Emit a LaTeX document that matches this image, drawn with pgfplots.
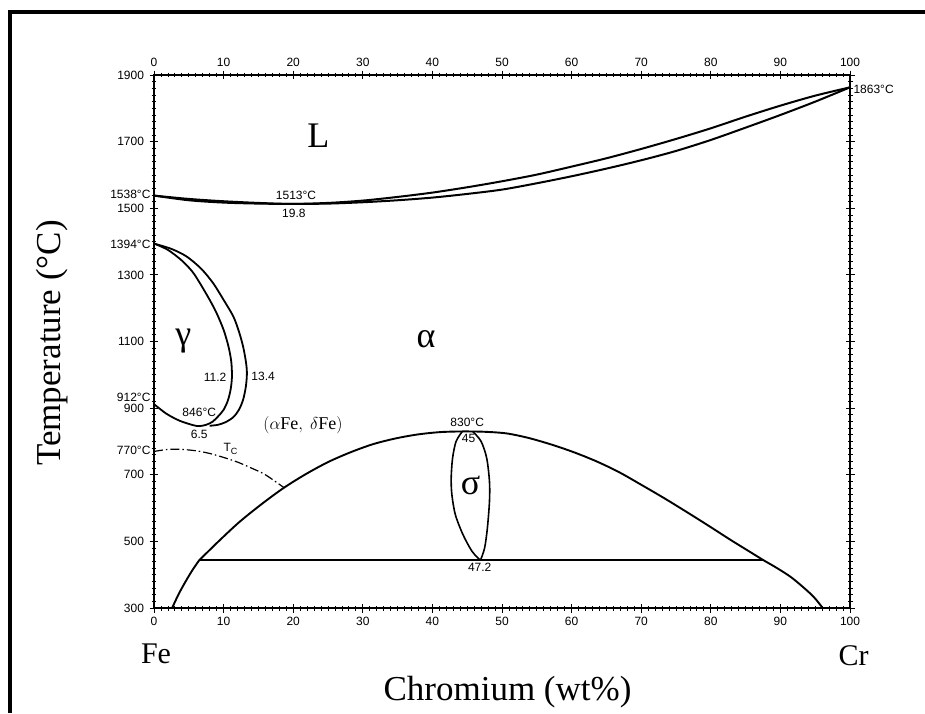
\documentclass[border=0pt]{standalone}
\usepackage{fontspec}
\setmainfont{Liberation Serif}
\setsansfont{Liberation Sans}
\usepackage{pgfplots}
\pgfplotsset{compat=1.18}
\newcommand{\tk}{\sffamily\fontsize{12}{12}\selectfont}
\newcommand{\bigph}{\fontsize{36}{36}\selectfont}
\begin{document}
\begin{tikzpicture}[x=1pt,y=1pt]
\useasboundingbox (-154,-105) rectangle (771,608);
\fill[white] (-154,-105) rectangle (771,608);
\draw[line width=4pt] (-144,-105) -- (-144,596) -- (773,596);
\pgfplotsset{myax/.style={width=696pt,height=533pt,scale only axis,at={(0pt,0pt)},anchor=south west,
  xmin=0,xmax=100,ymin=300,ymax=1900,clip=false,
  /pgf/number format/assume math mode=true,/pgf/number format/1000 sep={},
  ticklabel style={font=\tk},
  xtick={0,10,...,100}, ytick={300,500,...,1900},
  tick align=center, tick style={line width=0.8pt,black},
  major tick length=9pt, minor tick length=5pt}}
\begin{axis}[myax,
  minor x tick num=9, minor y tick num=9,
  xtick pos=both, ytick pos=both,
  xticklabel pos=lower, yticklabel pos=left,
  axis line style={line width=1.3pt},
  xticklabel style={yshift=-1pt}, yticklabel style={xshift=-2pt}]
% liquidus
\addplot[black, line width=2pt, smooth] coordinates {(0,1538) (5,1528) (10,1521) (15,1516) (19.8,1513) (25,1516) (30,1523) (35,1534) (40,1547) (45,1563) (50,1581) (55,1601) (60,1625) (65,1650) (70,1678) (75,1708) (80,1740) (85,1775) (90,1808) (95,1838) (100,1863)};
% solidus
\addplot[black, line width=2pt, smooth] coordinates {(0,1538) (5,1524) (10,1517) (15,1514) (19.8,1513) (25,1514) (30,1518) (35,1524) (40,1532) (45,1543) (50,1556) (55,1575) (60,1596) (65,1619) (70,1644) (75,1672) (80,1705) (85,1742) (90,1780) (95,1820) (100,1863)};
% gamma loop inner
\addplot[black, line width=1.8pt, smooth] coordinates {(0,1394) (2,1375) (4,1343) (5.5,1310) (6.6,1275) (8,1225) (9,1185) (10,1135) (10.7,1085) (11.1,1040) (11.2,994) (11.0,955) (10.6,922) (10.0,895) (9.2,875) (8.4,859) (7.5,850) (6.5,846) (5.6,849) (3.7,862) (1.8,883) (0,912)};
% gamma loop outer
\addplot[black, line width=1.8pt, smooth] coordinates {(0,1394) (2.5,1378) (4.7,1355) (6.8,1318) (8.5,1275) (10,1225) (11.4,1175) (12.2,1130) (12.8,1085) (13.2,1040) (13.35,1005) (13.2,965) (12.8,925) (12.2,895) (11.4,873) (10.3,858) (9.2,850) (8,847)};
% Curie temperature
\addplot[black, line width=1.2pt, smooth, dash pattern=on 9pt off 3pt on 1.5pt off 3pt] coordinates {(0,770) (2,776) (4,776) (6,772) (8,764) (10,752) (12,738) (14,720) (16,700) (18.7,661)};
% alpha / alpha+sigma boundary
\addplot[black, line width=1.9pt, smooth] coordinates {(2.6,300) (3.55,342) (4.55,380) (5.5,413) (6.48,443)};
\addplot[black, line width=1.9pt, smooth] coordinates {(6.48,443) (9.37,502) (12.26,558) (15.47,612) (18.67,661) (21.9,703) (25.1,739) (28.3,768) (31.5,792) (34.7,809) (37.9,821) (41.1,828) (44.3,830) (47.5,829) (50.7,824) (53.9,810) (57.2,790) (60.4,767) (63.6,740) (66.8,708) (70,670) (73.2,631) (76.4,590) (79.6,548) (82.8,505) (85.2,474) (87.6,443)};
\addplot[black, line width=1.9pt, smooth] coordinates {(87.6,443) (89.5,420) (91.5,393) (93.3,362) (94.8,333) (96,302)};
% eutectoid line
\addplot[black, line width=1.8pt] coordinates {(6.48,443) (87.6,443)};
% sigma loop
\addplot[black, line width=1.6pt, smooth] coordinates {(44.3,830) (43.4,800) (42.9,750) (42.7,690) (42.8,640) (43.3,580) (44.4,520) (45.7,470) (46.9,443)};
\addplot[black, line width=1.6pt, smooth] coordinates {(45.8,830) (47.0,800) (47.8,750) (48.2,680) (48.2,620) (47.9,540) (47.5,480) (46.9,443)};
% annotations
\node[font=\tk, anchor=east] at (axis cs:0,1542) {1538°C};
\node[font=\tk] at (axis cs:20.4,1540) {1513°C};
\node[font=\tk] at (axis cs:20.1,1486) {19.8};
\node[font=\tk, anchor=west] at (axis cs:100,1858) {1863°C};
\node[font=\tk, anchor=east] at (axis cs:0,1392) {1394°C};
\node[font=\tk, anchor=east] at (axis cs:0,932) {912°C};
\node[font=\tk, anchor=east] at (axis cs:0,773) {770°C};
\node[font=\tk] at (axis cs:6.5,886) {846°C};
\node[font=\tk] at (axis cs:6.5,820) {6.5};
\node[font=\tk, anchor=east] at (axis cs:10.9,994) {11.2};
\node[font=\tk, anchor=west] at (axis cs:13.5,994) {13.4};
\node[font=\fontsize{18}{18}\selectfont] at (axis cs:21.4,848) {$(\alpha\mathrm{Fe},$\hspace{7pt}$\delta\mathrm{Fe})$};
\node[font=\tk] at (axis cs:11,778) {T\raisebox{-3pt}{\fontsize{9}{9}\selectfont C}};
\node[font=\tk] at (axis cs:45,856) {830°C};
\node[font=\tk] at (axis cs:45.2,808) {45};
\node[font=\tk] at (axis cs:46.8,421) {47.2};
\node[font=\bigph, inner sep=0pt] at (axis cs:23.6,1718) {L};
\node[font=\bigph, inner sep=0pt] at (axis cs:4.2,1100) {γ};
\node[font=\bigph, inner sep=0pt] at (axis cs:39.1,1108) {α};
\node[font=\bigph, inner sep=0pt] at (axis cs:45.5,667) {σ};
\end{axis}
\begin{axis}[myax, xticklabel pos=upper, ytick=\empty, major tick length=0pt,
  axis line style={draw=none}, xticklabel style={yshift=5pt}]
\end{axis}
\node[font=\fontsize{30}{30}\selectfont, anchor=base] at (2,-55) {Fe};
\node[font=\fontsize{30}{30}\selectfont, anchor=base] at (699.5,-57) {Cr};
\node[font=\fontsize{35}{35}\selectfont, anchor=base] at (353.5,-92) {Chromium (wt\%)};
\node[font=\fontsize{35}{35}\selectfont, rotate=90, anchor=base] at (-93,265) {Temperature (°C)};
\end{tikzpicture}
\end{document}
